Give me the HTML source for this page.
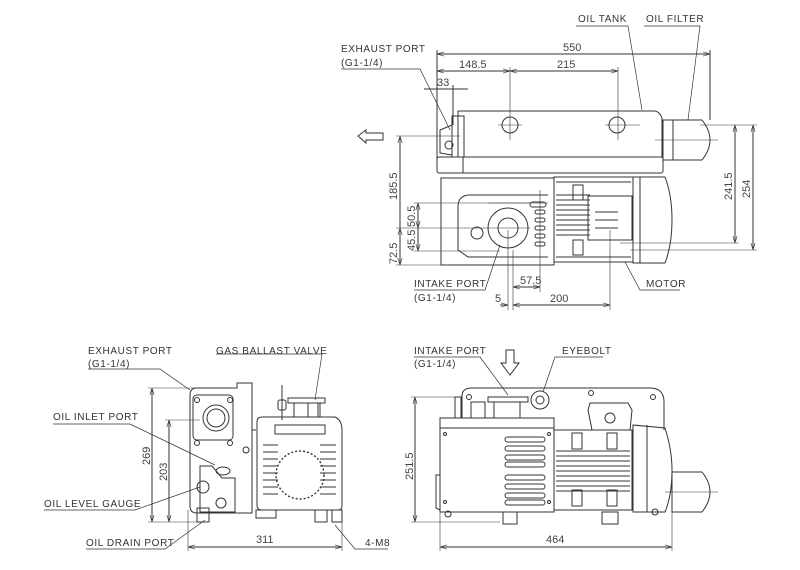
<!DOCTYPE html>
<html><head><meta charset="utf-8"><style>
html,body{margin:0;padding:0;background:#fff}
svg{display:block}
text{font-family:"Liberation Sans",sans-serif;font-size:10px;fill:#333;letter-spacing:0.6px}
.d{font-size:11px;fill:#444;letter-spacing:0}
</style></head><body>
<svg width="800" height="570" viewBox="0 0 800 570" xmlns="http://www.w3.org/2000/svg">
<defs>
<marker id="a" viewBox="0 0 10 10" refX="10" refY="5" markerWidth="7" markerHeight="7" orient="auto-start-reverse"><path d="M0,2 L10,5 L0,8" fill="none" stroke="#444" stroke-width="1"/></marker>
</defs>
<g fill="none" stroke="#333" stroke-width="1">
<line x1="437" y1="54" x2="710" y2="54" marker-start="url(#a)" marker-end="url(#a)"/>
<line x1="437" y1="71" x2="510" y2="71" marker-start="url(#a)" marker-end="url(#a)"/>
<line x1="510" y1="71" x2="618" y2="71" marker-start="url(#a)" marker-end="url(#a)"/>
<line x1="424" y1="89" x2="468" y2="89"/>
<line x1="437" y1="50" x2="437" y2="160"/><line x1="453" y1="85" x2="453" y2="125"/>
<line x1="510" y1="67" x2="510" y2="140" stroke-width="0.6"/><line x1="618" y1="67" x2="618" y2="140" stroke-width="0.6"/>
<line x1="710" y1="50" x2="710" y2="120"/>
<path d="M458,111 L655,111 Q660,112 662,118 L662,157 L458,157 Z"/>
<path d="M452,116 L464,116 L464,157 L452,157 Z"/>
<rect x="437" y="157" width="226" height="16" rx="2"/>
<line x1="463" y1="157" x2="463" y2="173"/>
<path d="M440,153 L440,130 L452,125 L452,155 Z"/>
<circle cx="449" cy="145" r="4"/>
<circle cx="510" cy="125" r="8"/><circle cx="617" cy="125" r="8"/>
<line x1="498" y1="125" x2="522" y2="125" stroke-width="0.6"/><line x1="605" y1="125" x2="640" y2="125" stroke-width="0.6"/>
<rect x="663" y="120" width="10" height="40"/>
<path d="M673,120 L702,120 Q710,130 710,140 Q710,150 702,160 L673,160 Z"/>
<line x1="655" y1="140" x2="718" y2="140" stroke-width="0.6"/>
<rect x="441" y="178" width="113" height="87"/>
<path d="M548,195 L470,195 Q458,195 458,207 L458,250 L468,257 L548,257"/>
<circle cx="508" cy="228" r="20"/><circle cx="508" cy="228" r="10"/>
<circle cx="477" cy="233" r="6"/>
<rect x="530" y="202" width="16" height="5" rx="2.5"/>
<rect x="535" y="210" width="10" height="4" rx="2"/><rect x="535" y="218" width="10" height="4" rx="2"/><rect x="535" y="226" width="10" height="4" rx="2"/><rect x="535" y="234" width="10" height="4" rx="2"/><rect x="535" y="242" width="10" height="4" rx="2"/>
<line x1="488" y1="203" x2="548" y2="203" stroke-width="0.6"/>
<rect x="554" y="177" width="79" height="85"/>
<line x1="556" y1="182" x2="631" y2="182"/><line x1="556" y1="257" x2="631" y2="257"/>
<line x1="556" y1="195" x2="590" y2="195"/><line x1="556" y1="200" x2="590" y2="200"/><line x1="556" y1="205" x2="590" y2="205"/><line x1="556" y1="210" x2="590" y2="210"/><line x1="556" y1="215" x2="590" y2="215"/><line x1="556" y1="220" x2="590" y2="220"/><line x1="556" y1="225" x2="590" y2="225"/><line x1="556" y1="230" x2="590" y2="230"/><line x1="556" y1="235" x2="590" y2="235"/>
<rect x="588" y="196" width="44" height="44"/>
<line x1="595" y1="212" x2="618" y2="212"/><line x1="595" y1="220" x2="618" y2="220"/><line x1="595" y1="228" x2="618" y2="228"/>
<rect x="573" y="185" width="10" height="15"/><rect x="573" y="240" width="10" height="15"/>
<path d="M633,177 L665,177 Q672,195 672,220 Q672,245 665,263 L633,263 Z"/>
<line x1="640" y1="177" x2="640" y2="263"/>
<path d="M358,136 L366,130 L366,133 L383,133 L383,140 L366,140 L366,143 Z"/>
<line x1="400" y1="136" x2="400" y2="265" marker-start="url(#a)" marker-end="url(#a)"/>
<line x1="400" y1="228" x2="400" y2="265" marker-start="url(#a)"/>
<line x1="418" y1="203" x2="418" y2="228" marker-start="url(#a)" marker-end="url(#a)"/>
<line x1="418" y1="228" x2="418" y2="251" marker-end="url(#a)"/>
<line x1="396" y1="136" x2="460" y2="136" stroke-width="0.6"/><line x1="396" y1="265" x2="441" y2="265" stroke-width="0.6"/>
<line x1="396" y1="228" x2="530" y2="228" stroke-width="0.6"/><line x1="414" y1="203" x2="530" y2="203" stroke-width="0.6"/><line x1="414" y1="251" x2="500" y2="251" stroke-width="0.6"/>
<line x1="735" y1="125" x2="735" y2="243" marker-start="url(#a)" marker-end="url(#a)"/>
<line x1="753" y1="125" x2="753" y2="250" marker-start="url(#a)" marker-end="url(#a)"/>
<line x1="700" y1="125" x2="757" y2="125" stroke-width="0.6"/><line x1="620" y1="243" x2="739" y2="243" stroke-width="0.6"/><line x1="630" y1="250" x2="757" y2="250" stroke-width="0.6"/>
<line x1="513" y1="287" x2="540" y2="287" marker-start="url(#a)" marker-end="url(#a)"/>
<line x1="500" y1="305" x2="508" y2="305" marker-end="url(#a)"/>
<line x1="513" y1="305" x2="610" y2="305" marker-start="url(#a)" marker-end="url(#a)"/>
<line x1="508" y1="230" x2="508" y2="310" stroke-width="0.6"/><line x1="513" y1="250" x2="513" y2="310" stroke-width="0.6"/><line x1="540" y1="190" x2="540" y2="292" stroke-width="0.6"/><line x1="610" y1="230" x2="610" y2="310" stroke-width="0.6"/>
<polyline points="341,69 420,69 450,130" stroke-width="0.7"/>
<polyline points="576,26 628,26 642,110" stroke-width="0.7"/>
<polyline points="644,26 700,26 688,120" stroke-width="0.7"/>
<polyline points="414,290 485,290 500,245" stroke-width="0.7"/>
<polyline points="680,290 640,290 625,262" stroke-width="0.7"/>

<path d="M197,388 L237,388 L237,383 L252,383 L252,513 L197,513 Q190,513 190,506 L190,395 Q190,388 197,388 Z"/>
<rect x="193" y="395" width="40" height="45" rx="4"/>
<circle cx="216" cy="418" r="13"/><circle cx="216" cy="418" r="9"/>
<circle cx="197" cy="400" r="2.5"/><circle cx="230" cy="400" r="2.5"/><circle cx="197" cy="443" r="2.5"/><circle cx="230" cy="443" r="2.5"/>
<circle cx="246" cy="450" r="3"/>
<path d="M200,478 L200,466 L212,466 L222,478 L235,478 L235,512 L200,512 Z"/>
<ellipse cx="223" cy="471" rx="7" ry="4"/>
<circle cx="203" cy="487" r="6"/>
<circle cx="221" cy="503" r="5"/>
<rect x="197" y="508" width="12" height="14"/>
<line x1="252" y1="430" x2="256" y2="430"/>
<path d="M262,417 L335,417 Q342,420 342,430 L342,506 Q342,510 338,510 L262,510 Q257,510 257,505 L257,422 Q257,417 262,417 Z"/>
<rect x="275" y="425" width="50" height="9"/>
<rect x="288" y="398" width="37" height="5"/><line x1="294" y1="403" x2="294" y2="417"/><line x1="318" y1="403" x2="318" y2="417"/>
<rect x="308" y="403" width="12" height="14"/>
<line x1="282" y1="385" x2="282" y2="420"/><rect x="278" y="400" width="8" height="10" rx="2"/>
<circle cx="300" cy="475" r="24" stroke-dasharray="2 2" stroke-width="1.4"/>
<line x1="263" y1="445" x2="278" y2="445"/><line x1="263" y1="452" x2="278" y2="452"/><line x1="263" y1="459" x2="278" y2="459"/><line x1="263" y1="466" x2="278" y2="466"/><line x1="263" y1="473" x2="278" y2="473"/><line x1="263" y1="480" x2="278" y2="480"/><line x1="263" y1="487" x2="278" y2="487"/><line x1="263" y1="494" x2="278" y2="494"/>
<line x1="320" y1="445" x2="336" y2="445"/><line x1="320" y1="452" x2="336" y2="452"/><line x1="320" y1="459" x2="336" y2="459"/><line x1="320" y1="466" x2="336" y2="466"/><line x1="320" y1="473" x2="336" y2="473"/><line x1="320" y1="480" x2="336" y2="480"/><line x1="320" y1="487" x2="336" y2="487"/><line x1="320" y1="494" x2="336" y2="494"/>
<rect x="256" y="510" width="20" height="8"/><rect x="315" y="510" width="12" height="12"/><rect x="332" y="510" width="10" height="12"/>
<line x1="152" y1="388" x2="152" y2="522" marker-start="url(#a)" marker-end="url(#a)"/>
<line x1="169" y1="420" x2="169" y2="522" marker-start="url(#a)" marker-end="url(#a)"/>
<line x1="148" y1="388" x2="200" y2="388" stroke-width="0.6"/><line x1="165" y1="420" x2="200" y2="420" stroke-width="0.6"/><line x1="148" y1="522" x2="200" y2="522" stroke-width="0.6"/>
<line x1="188" y1="547" x2="342" y2="547" marker-start="url(#a)" marker-end="url(#a)"/>
<line x1="188" y1="510" x2="188" y2="551" stroke-width="0.6"/><line x1="342" y1="512" x2="342" y2="551" stroke-width="0.6"/>
<polyline points="88,369 160,369 190,390" stroke-width="0.7"/>
<polyline points="216,354 322,354 315,400" stroke-width="0.7"/>
<polyline points="53,424 130,424 215,465" stroke-width="0.7"/>
<polyline points="44,510 135,510 200,487" stroke-width="0.7"/>
<polyline points="86,549 165,549 205,520" stroke-width="0.7"/>
<polyline points="388,549 355,549 335,525" stroke-width="0.7"/>

<path d="M462,418 L462,396 Q462,388 472,388 L650,388 Q664,388 664,402 L664,430"/>
<rect x="440" y="418" width="114" height="94"/>
<line x1="440" y1="428" x2="554" y2="428"/>
<path d="M440,475 L436,475 L436,508 L440,510"/>
<rect x="455" y="397" width="6" height="21"/>
<rect x="471" y="402" width="14" height="16"/>
<rect x="488" y="397" width="40" height="5"/><line x1="494" y1="402" x2="494" y2="418"/><line x1="520" y1="402" x2="520" y2="418"/>
<circle cx="540" cy="400" r="9"/><circle cx="540" cy="400" r="4"/>
<circle cx="469" cy="397" r="2.5"/><circle cx="591" cy="393" r="2.5"/><circle cx="653" cy="397" r="2.5"/>
<circle cx="445" cy="434" r="1.5"/><circle cx="549" cy="434" r="1.5"/><circle cx="445" cy="502" r="1.5"/><circle cx="549" cy="502" r="1.5"/>
<rect x="505" y="437" width="40" height="5" rx="2.5"/><rect x="505" y="446" width="40" height="5" rx="2.5"/><rect x="505" y="455" width="40" height="5" rx="2.5"/><rect x="505" y="462" width="40" height="5" rx="2.5"/><rect x="505" y="475" width="40" height="5" rx="2.5"/><rect x="505" y="484" width="40" height="5" rx="2.5"/><rect x="505" y="493" width="40" height="5" rx="2.5"/><rect x="505" y="500" width="40" height="5" rx="2.5"/>
<rect x="554" y="430" width="78" height="80"/>
<line x1="556" y1="451" x2="630" y2="451"/><line x1="556" y1="456" x2="630" y2="456"/><line x1="556" y1="461" x2="630" y2="461"/><line x1="556" y1="466" x2="630" y2="466"/><line x1="556" y1="471" x2="630" y2="471"/><line x1="556" y1="476" x2="630" y2="476"/><line x1="556" y1="481" x2="630" y2="481"/><line x1="556" y1="486" x2="630" y2="486"/><line x1="556" y1="491" x2="630" y2="491"/>
<rect x="572" y="433" width="10" height="16"/><rect x="607" y="433" width="10" height="16"/><rect x="572" y="490" width="10" height="16"/><rect x="607" y="490" width="10" height="16"/>
<path d="M590,403 L628,403 L632,410 L630,430 L592,430 L588,410 Z"/>
<circle cx="610" cy="418" r="5"/>
<path d="M633,425 L665,428 Q672,450 672,470 Q672,495 665,512 L633,512 Z"/>
<line x1="647" y1="425" x2="647" y2="512"/>
<path d="M672,472 L702,472 Q710,482 710,492 Q710,502 702,512 L672,512 Z"/>
<line x1="665" y1="492" x2="718" y2="492" stroke-width="0.6"/>
<rect x="503" y="512" width="14" height="12"/><rect x="602" y="512" width="16" height="12"/>
<circle cx="448" cy="514" r="3"/><circle cx="655" cy="512" r="3"/>
<path d="M506,350 L514,350 L514,363 L519,363 L510,375 L501,363 L506,363 Z"/>
<line x1="415" y1="397" x2="415" y2="522" marker-start="url(#a)" marker-end="url(#a)"/>
<line x1="411" y1="397" x2="460" y2="397" stroke-width="0.6"/><line x1="411" y1="522" x2="500" y2="522" stroke-width="0.6"/>
<line x1="440" y1="547" x2="672" y2="547" marker-start="url(#a)" marker-end="url(#a)"/>
<line x1="440" y1="512" x2="440" y2="551" stroke-width="0.6"/><line x1="672" y1="512" x2="672" y2="551" stroke-width="0.6"/>
<polyline points="414,357 480,357 508,395" stroke-width="0.7"/>
<polyline points="603,357 555,357 543,392" stroke-width="0.7"/>
</g>
<text x="341" y="52">EXHAUST PORT</text><text x="341" y="66">(G1-1/4)</text>
<text x="578" y="22">OIL TANK</text><text x="646" y="22">OIL FILTER</text>
<text x="414" y="287">INTAKE PORT</text><text x="414" y="301">(G1-1/4)</text>
<text x="646" y="287">MOTOR</text>
<text class="d" x="563" y="51">550</text><text class="d" x="459" y="68">148.5</text><text class="d" x="557" y="68">215</text><text class="d" x="437" y="86">33</text>
<text class="d" x="520" y="284">57.5</text><text class="d" x="495" y="302">5</text><text class="d" x="550" y="302">200</text>
<text class="d" transform="translate(397,200) rotate(-90)">185.5</text>
<text class="d" transform="translate(397,264) rotate(-90)">72.5</text>
<text class="d" transform="translate(415,227) rotate(-90)">50.5</text>
<text class="d" transform="translate(415,251) rotate(-90)">45.5</text>
<text class="d" transform="translate(732,200) rotate(-90)">241.5</text>
<text class="d" transform="translate(750,198) rotate(-90)">254</text>
<text x="88" y="354">EXHAUST PORT</text><text x="88" y="367">(G1-1/4)</text>
<text x="216" y="354">GAS BALLAST VALVE</text>
<text x="53" y="420">OIL INLET PORT</text>
<text x="44" y="507">OIL LEVEL GAUGE</text>
<text x="86" y="546">OIL DRAIN PORT</text>
<text x="365" y="546">4-M8</text>
<text class="d" transform="translate(150,465) rotate(-90)">269</text>
<text class="d" transform="translate(167,481) rotate(-90)">203</text>
<text class="d" x="256" y="543">311</text>
<text x="414" y="354">INTAKE PORT</text><text x="414" y="367">(G1-1/4)</text>
<text x="562" y="354">EYEBOLT</text>
<text class="d" transform="translate(413,480) rotate(-90)">251.5</text>
<text class="d" x="546" y="543">464</text>
</svg>
</body></html>
